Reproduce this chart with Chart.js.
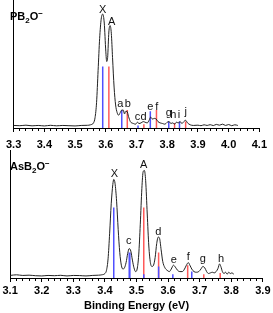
<!DOCTYPE html>
<html>
<head>
<meta charset="utf-8">
<script src="https://cdn.jsdelivr.net/npm/chart.js@4.4.1/dist/chart.umd.min.js"></script>
<style>
  body { margin: 0; width: 273px; height: 313px; position: relative; background: #fff; overflow: hidden;
         font-family: "Liberation Sans", Arial, sans-serif; }
  .panel { position: absolute; left: 0; width: 273px; }
  .titulo { position: absolute; left: 10px; font-weight: bold; font-size: 11px; line-height: 11px; color: #000; }
  .sub { font-size: 8px; position: relative; top: 3px; }
  .sup { font-size: 8px; position: relative; top: -4px; }
</style>
</head>
<body>
<div class="panel" style="top:0;height:151px"><canvas id="plot1" width="273" height="151"></canvas></div>
<div class="panel" style="top:150px;height:163px"><canvas id="plot2" width="273" height="163"></canvas></div>
<div class="titulo" style="top:11px">PB<span class="sub">2</span>O<span class="sup">−</span></div>
<div class="titulo" style="top:161px">AsB<span class="sub">2</span>O<span class="sup">−</span></div>
<script>
// ---- PB2O- : espectro ----
const energiaPB = [3.30,3.32,3.34,3.36,3.38,3.40,3.42,3.44,3.46,3.48,3.50,3.52,3.54,3.55,3.56,3.565,3.57,3.575,3.58,3.585,3.59,3.595,3.60,3.603,3.606,3.61,3.614,3.618,3.622,3.627,3.632,3.637,3.642,3.647,3.652,3.657,3.661,3.665,3.669,3.674,3.68,3.69,3.697,3.703,3.708,3.715,3.722,3.728,3.735,3.741,3.746,3.752,3.758,3.764,3.77,3.777,3.785,3.792,3.80,3.806,3.812,3.818,3.824,3.83,3.836,3.842,3.848,3.854,3.86,3.866,3.875,3.885,3.90,3.91,3.92,3.93,3.94,3.95,3.96,3.97,3.98,3.99,4.00,4.01,4.02,4.03];
const intensidadPB = [0.02,0.018,0.022,0.017,0.02,0.016,0.021,0.017,0.02,0.018,0.016,0.02,0.021,0.025,0.04,0.08,0.2,0.45,0.7,0.85,0.89,0.82,0.6,0.52,0.55,0.75,0.80,0.74,0.55,0.32,0.18,0.12,0.10,0.12,0.14,0.14,0.11,0.13,0.13,0.09,0.05,0.035,0.03,0.045,0.035,0.04,0.05,0.045,0.04,0.06,0.085,0.07,0.075,0.07,0.05,0.04,0.035,0.03,0.045,0.05,0.035,0.04,0.03,0.045,0.04,0.05,0.035,0.05,0.06,0.04,0.025,0.02,0.022,0.018,0.025,0.02,0.026,0.019,0.028,0.022,0.03,0.02,0.027,0.018,0.025,0.02];
// sticks (azul / rojo)
const stickEPB = [3.59,3.61,3.652,3.67,3.705,3.724,3.745,3.765,3.805,3.824,3.84,3.86];
const stickHPB = [0.48,0.48,0.14,0.14,0.02,0.03,0.13,0.14,0.05,0.04,0.05,0.05];
const stickCPB = ['b','r','b','r','b','r','b','r','b','r','b','r'];
// etiquetas de picos
const nombrePB = ['X','A','a','b','c','d','e','f','g','h','i','j'];
const nombreXPB = [3.590,3.619,3.647,3.672,3.703,3.723,3.745,3.766,3.805,3.820,3.838,3.860];
const nombreYPB = [0.895,0.805,0.165,0.165,0.065,0.065,0.14,0.14,0.095,0.08,0.08,0.1];

// ---- AsB2O- : espectro ----
const energiaAs = [3.10,3.12,3.14,3.16,3.18,3.20,3.22,3.24,3.26,3.28,3.30,3.32,3.34,3.36,3.38,3.39,3.40,3.405,3.41,3.415,3.42,3.425,3.428,3.432,3.437,3.442,3.447,3.452,3.457,3.462,3.467,3.472,3.477,3.482,3.487,3.492,3.497,3.502,3.507,3.512,3.517,3.521,3.525,3.529,3.534,3.539,3.544,3.549,3.554,3.559,3.564,3.569,3.573,3.578,3.583,3.59,3.597,3.604,3.61,3.617,3.623,3.63,3.637,3.645,3.652,3.658,3.664,3.669,3.675,3.682,3.69,3.697,3.704,3.71,3.716,3.722,3.728,3.734,3.74,3.746,3.752,3.758,3.763,3.767,3.772,3.777,3.782,3.787,3.792,3.797,3.802,3.808];
const intensidadAs = [0.02,0.025,0.02,0.022,0.018,0.016,0.02,0.018,0.021,0.016,0.02,0.019,0.016,0.02,0.022,0.025,0.035,0.06,0.15,0.35,0.58,0.73,0.77,0.74,0.6,0.38,0.2,0.1,0.07,0.08,0.12,0.19,0.23,0.21,0.14,0.08,0.05,0.07,0.18,0.42,0.7,0.83,0.84,0.76,0.5,0.25,0.12,0.09,0.1,0.16,0.27,0.32,0.31,0.22,0.13,0.08,0.06,0.05,0.07,0.1,0.085,0.06,0.05,0.05,0.07,0.1,0.12,0.1,0.07,0.05,0.045,0.05,0.07,0.09,0.08,0.05,0.035,0.04,0.045,0.04,0.05,0.075,0.11,0.09,0.05,0.035,0.045,0.03,0.045,0.035,0.04,0.03];
const stickEAs = [3.428,3.477,3.479,3.523,3.523,3.57,3.57,3.615,3.662,3.675,3.713,3.765];
const stickHAs = [0.55,0.2,0.2,0.55,0.03,0.2,0.09,0.03,0.1,0.05,0.03,0.04];
const stickCAs = ['b','b','b','r','b','r','b','b','r','b','r','r'];
const nombreAs = ['X','c','A','d','e','f','g','h'];
const nombreXAs = [3.430,3.4755,3.523,3.569,3.618,3.664,3.710,3.768];
const nombreYAs = [0.79,0.266,0.86,0.336,0.117,0.14,0.125,0.125];

const AZUL = 'rgb(80,80,255)';
const ROJO = 'rgb(255,90,90)';

let esMayor = (v) => Math.abs(v * 10 - Math.round(v * 10)) < 1e-6;

// convierte los sticks de un color en segmentos verticales separados por huecos
let lineasStick = (E, H, C, color) => {
  let datos = [];
  for (let i = 0; i < E.length; i++) {
    if (C[i] === color) {
      datos.push({x: E[i], y: 0}, {x: E[i], y: H[i]}, {x: E[i], y: null});
    }
  }
  return datos;
};

// plugin para las letras de los picos
const etiquetasPicos = {
  id: 'etiquetas',
  afterDatasetsDraw(chart, args, opts) {
    const ctx = chart.ctx;
    const sx = chart.scales.x, sy = chart.scales.y;
    ctx.save();
    ctx.font = '11px "Liberation Sans", Arial, sans-serif';
    ctx.fillStyle = '#111';
    ctx.textAlign = 'center';
    ctx.textBaseline = 'alphabetic';
    for (let i = 0; i < opts.nombres.length; i++) {
      ctx.fillText(opts.nombres[i], sx.getPixelForValue(opts.ex[i]), sy.getPixelForValue(opts.ey[i]));
    }
    ctx.restore();
  }
};

let crearGrafico = (id, energia, intensidad, sE, sH, sC, nombres, ex, ey, xmin, xmax, titulo, altoEje, pad) => {
  let plotRef = document.getElementById(id);
  let config = {
    type: 'line',
    data: {
      datasets: [
        { data: energia.map((e, i) => ({x: e, y: intensidad[i]})), borderColor: '#222', borderWidth: 1,
          pointRadius: 0, cubicInterpolationMode: 'monotone', order: 0 },
        { data: lineasStick(sE, sH, sC, 'r'), borderColor: ROJO, borderWidth: 1.5, pointRadius: 0,
          spanGaps: false, order: 2 },
        { data: lineasStick(sE, sH, sC, 'b'), borderColor: AZUL, borderWidth: 1.5, pointRadius: 0,
          spanGaps: false, order: 1 }
      ]
    },
    options: {
      responsive: false,
      animation: false,
      devicePixelRatio: 1,
      layout: { padding: { top: 0, right: 0, bottom: 0, left: 0 } },
      plugins: {
        legend: { display: false },
        tooltip: { enabled: false },
        etiquetas: { nombres: nombres, ex: ex, ey: ey }
      },
      scales: {
        x: {
          type: 'linear', min: xmin, max: xmax,
          afterFit: (scale) => { scale.height = altoEje; },
          ticks: {
            stepSize: 0.02, autoSkip: false, maxRotation: 0, padding: pad, color: '#000',
            font: { family: '"Liberation Sans", Arial, sans-serif', size: 11, weight: 'bold' },
            callback: (v) => esMayor(v) ? v.toFixed(1) : ''
          },
          grid: {
            drawOnChartArea: false, drawTicks: true, tickLength: 4, tickColor: '#000',
            tickBorderDash: (c) => (c.tick && esMayor(c.tick.value)) ? [] : [2, 20]
          },
          border: { color: '#000', width: 1 },
          title: {
            display: !!titulo, text: titulo || '', color: '#000', padding: { top: 0, bottom: 0 },
            font: { family: '"Liberation Sans", Arial, sans-serif', size: 11, weight: 'bold' }
          }
        },
        y: {
          min: 0, max: 1,
          ticks: { display: false },
          grid: { display: false },
          border: { display: true, color: '#000', width: 1 }
        }
      }
    },
    plugins: [etiquetasPicos]
  };
  return new Chart(plotRef, config);
};

crearGrafico('plot1', energiaPB, intensidadPB, stickEPB, stickHPB, stickCPB,
  nombrePB, nombreXPB, nombreYPB, 3.3, 4.1, null, 23, 6);
crearGrafico('plot2', energiaAs, intensidadAs, stickEAs, stickHAs, stickCAs,
  nombreAs, nombreXAs, nombreYAs, 3.1, 3.9, 'Binding Energy (eV)', 35, 2.5);
</script>
</body>
</html>
